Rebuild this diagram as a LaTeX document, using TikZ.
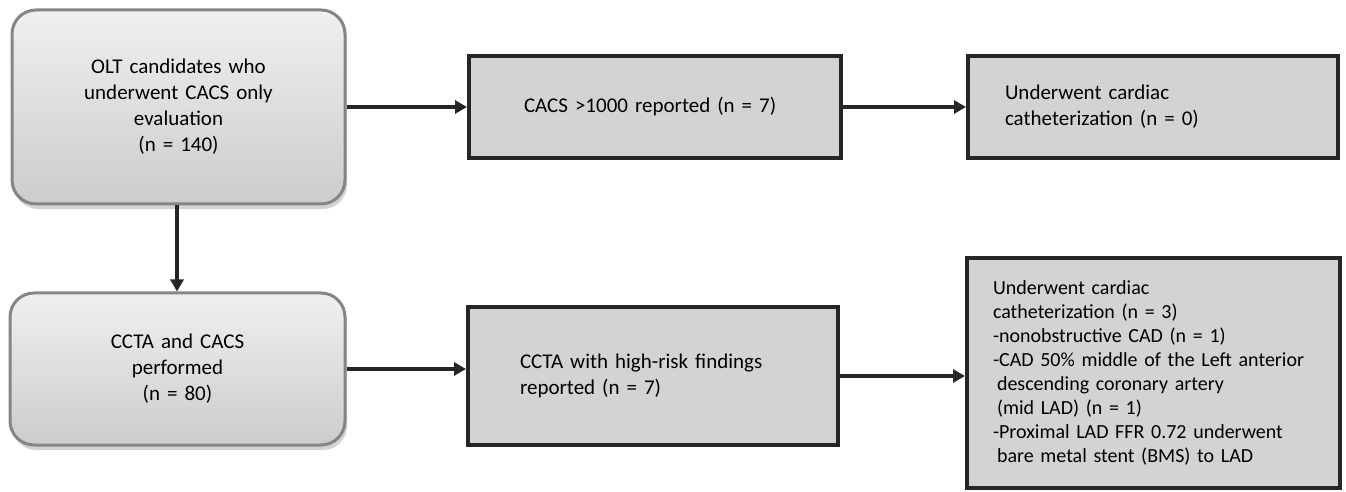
\documentclass[tikz,border=0pt]{standalone}
\usepackage{fontspec}
\setmainfont{Carlito}
\usetikzlibrary{arrows.meta,shadows}
\definecolor{boxGray}{HTML}{D2D3D5}
\definecolor{rimGray}{HTML}{858585}

\tikzset{
  stagebox/.style={draw=rimGray, line width=1.5pt, rounded corners=12pt,
    top color=black!6, bottom color=black!20, align=center, inner xsep=6pt,
    drop shadow={opacity=0.35, shadow xshift=1pt, shadow yshift=-2.5pt},
    font=\fontsize{10.5}{13}\selectfont},
  resultbox/.style={draw=black!85, line width=2pt, fill=boxGray, align=left,
    font=\fontsize{10.5}{13}\selectfont},
  flow/.style={draw=black!85, line width=2pt, -{Triangle[length=6pt,width=6.5pt]}}
}

\begin{document}
\begin{tikzpicture}[x=0.5pt, y=-0.5pt]
  \useasboundingbox (0,0) rectangle (1346,492);

  % left column
  \node[stagebox, text width=154.5pt, minimum height=97pt] (olt) at (178.5,107)
    {OLT candidates who\\underwent CACS only\\evaluation\\(n = 140)};
  \node[stagebox, text width=155.5pt, minimum height=76pt] (ccta) at (177.5,369)
    {CCTA and CACS\\performed\\(n = 80)};

  % middle column
  \node[resultbox, text width=131pt, inner xsep=27.5pt, minimum height=51pt] (cacs) at (655,107)
    {CACS >1000 reported (n = 7)};
  \node[resultbox, text width=133pt, inner xsep=26pt, minimum height=69pt] (risk) at (653,376)
    {CCTA with high-risk findings\\reported (n = 7)};

  % right column
  \node[resultbox, text width=148pt, inner xsep=18.5pt, minimum height=51pt] (cathA) at (1153,107)
    {Underwent cardiac\\catheterization (n = 0)};
  \node[resultbox, text width=160.5pt, inner xsep=13pt, minimum height=115pt,
        font=\fontsize{10}{12}\selectfont] (cathB) at (1153.5,373)
    {Underwent cardiac\\catheterization (n = 3)\\-nonobstructive CAD (n = 1)\\
     -CAD 50\% middle of the Left anterior\\\hspace*{2pt}descending coronary artery\\
     \hspace*{2pt}(mid LAD) (n = 1)\\-Proximal LAD FFR 0.72 underwent\\
     \hspace*{2pt}bare metal stent (BMS) to LAD};

  % connectors
  \draw[flow] (olt.east) -- (olt.east -| cacs.west);
  \draw[flow] (cacs.east) -- (cathA.west);
  \draw[flow] (olt.south -| 177,0) -- (ccta.north -| 177,0);
  \draw[flow] (ccta.east) -- (ccta.east -| risk.west);
  \draw[flow] (risk.east) -- (risk.east -| cathB.west);
\end{tikzpicture}
\end{document}
